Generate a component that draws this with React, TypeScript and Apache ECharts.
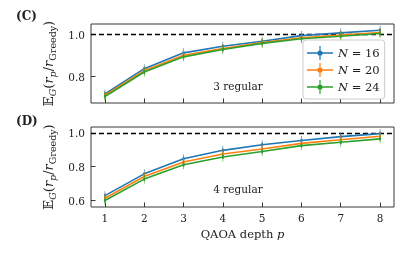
import React, { useEffect, useRef } from "react";
import * as echarts from "echarts";

const depths = [1, 2, 3, 4, 5, 6, 7, 8];
const seriesNames = ["N = 16", "N = 20", "N = 24"];
const colors = ["#1f77b4", "#ff7f0e", "#2ca02c"];
const reg3N16 = [0.718, 0.838, 0.913, 0.944, 0.968, 0.995, 1.008, 1.02];
const reg3N20 = [0.712, 0.828, 0.902, 0.934, 0.962, 0.985, 0.998, 1.01];
const reg3N24 = [0.706, 0.822, 0.894, 0.929, 0.958, 0.98, 0.992, 1.005];
const reg4N16 = [0.629, 0.758, 0.847, 0.897, 0.93, 0.955, 0.978, 0.996];
const reg4N20 = [0.614, 0.742, 0.828, 0.875, 0.905, 0.938, 0.96, 0.98];
const reg4N24 = [0.6, 0.727, 0.812, 0.858, 0.89, 0.925, 0.945, 0.965];
const topYTicks = [0.8, 1.0];
const bottomYTicks = [0.6, 0.8, 1.0];

const FONT = "DejaVu Serif";
const TXT = "#222";
const SYMBOL =
  "path://M-0.6,-4.5 L0.6,-4.5 L0.6,4.5 L-0.6,4.5 Z M-2.2,0 A2.2,2.2 0 1,1 2.2,0 A2.2,2.2 0 1,1 -2.2,0 Z";
const LEGEND_ICON =
  "path://M0,6.2 L26,6.2 L26,7.8 L0,7.8 Z M12.4,0 L13.6,0 L13.6,14 L12.4,14 Z M10.4,7 A2.6,2.6 0 1,1 15.6,7 A2.6,2.6 0 1,1 10.4,7 Z";

const yName = "{a|𝔼}{s|G}{a|(}{i|r}{s|p}{a|/}{i|r}{u|Greedy}{a|)}";
const yRich = {
  a: { fontFamily: FONT, fontSize: 13, color: TXT, lineHeight: 18 },
  i: { fontFamily: FONT, fontSize: 13, color: TXT, fontStyle: "italic", lineHeight: 18 },
  s: { fontFamily: FONT, fontSize: 9.5, color: TXT, fontStyle: "italic", verticalAlign: "bottom", lineHeight: 18 },
  u: { fontFamily: FONT, fontSize: 9.5, color: TXT, verticalAlign: "bottom", lineHeight: 18 },
};
const xRich = {
  a: { fontFamily: FONT, fontSize: 11.5, color: TXT },
  i: { fontFamily: FONT, fontSize: 11.5, color: TXT, fontStyle: "italic" },
};

function pairs(vals: number[]) {
  return depths.map((p, i) => [p, vals[i]]);
}

export default function App() {
  const ref = useRef<HTMLDivElement>(null);
  useEffect(() => {
    if (!ref.current) return;
    const chart = echarts.init(ref.current, null, { renderer: "svg" });
    const top = [reg3N16, reg3N20, reg3N24];
    const bot = [reg4N16, reg4N20, reg4N24];
    const mkSeries = (vals: number[], idx: number, g: number) => ({
      type: "line",
      name: seriesNames[idx],
      xAxisIndex: g,
      yAxisIndex: g,
      data: pairs(vals),
      color: colors[idx],
      lineStyle: { width: 1.6, color: colors[idx] },
      itemStyle: { color: colors[idx] },
      symbol: SYMBOL,
      symbolSize: [4.4, 9],
      symbolKeepAspect: true,
      z: 3 + idx,
      markLine:
        idx === 0
          ? {
              silent: true,
              symbol: "none",
              label: { show: false },
              lineStyle: { color: "#000", type: [5, 3], width: 1.4 },
              data: [{ yAxis: 1.0 }],
              z: 2,
            }
          : undefined,
    });
    const tickStyle = { color: "#222", width: 0.9 };
    const xCommon = {
      type: "value",
      min: 0.645,
      max: 8.355,
      axisLine: { show: false },
      splitLine: { show: false },
      axisTick: { show: true, inside: true, length: 4.5, lineStyle: tickStyle, customValues: depths },
    };
    const yCommon = {
      type: "value",
      axisLine: { show: false },
      splitLine: { show: false },
      nameLocation: "middle",
      nameRotate: 90,
      nameGap: 24,
      nameTextStyle: { rich: yRich },
      name: yName,
    };
    const labelStyle = { fontFamily: FONT, fontSize: 10.5, color: TXT };
    chart.setOption({
      animation: false,
      grid: [
        { left: 91, top: 24, width: 303, height: 79, show: true, borderColor: "#222", borderWidth: 0.9, backgroundColor: "transparent" },
        { left: 91, top: 127, width: 303, height: 80, show: true, borderColor: "#222", borderWidth: 0.9, backgroundColor: "transparent" },
      ],
      xAxis: [
        { ...xCommon, gridIndex: 0, axisLabel: { show: false, customValues: depths } },
        {
          ...xCommon,
          gridIndex: 1,
          axisLabel: { show: true, customValues: depths, ...labelStyle, margin: 5 },
          name: "{a|QAOA depth }{i|p}",
          nameLocation: "middle",
          nameGap: 21,
          nameTextStyle: { rich: xRich },
        },
      ],
      yAxis: [
        {
          ...yCommon,
          gridIndex: 0,
          min: 0.675,
          max: 1.05,
          axisTick: { show: true, inside: true, length: 4.5, lineStyle: tickStyle, customValues: topYTicks },
          axisLabel: { customValues: topYTicks, ...labelStyle, margin: 6, formatter: (v: number) => v.toFixed(1) },
        },
        {
          ...yCommon,
          gridIndex: 1,
          min: 0.562,
          max: 1.035,
          axisTick: { show: true, inside: true, length: 4.5, lineStyle: tickStyle, customValues: bottomYTicks },
          axisLabel: { customValues: bottomYTicks, ...labelStyle, margin: 6, formatter: (v: number) => v.toFixed(1) },
        },
      ],
      legend: {
        orient: "vertical",
        left: 303,
        top: 40,
        padding: [6, 5, 5, 4],
        itemGap: 3,
        itemWidth: 26,
        itemHeight: 14,
        backgroundColor: "rgba(255,255,255,0.85)",
        borderColor: "#ccc",
        borderWidth: 1,
        borderRadius: 3,
        data: seriesNames.map((n, i) => ({ name: n, icon: LEGEND_ICON, itemStyle: { color: colors[i] } })),
        formatter: (name: string) => `{i|N}{a| = ${name.split("= ")[1]}}`,
        textStyle: {
          rich: {
            a: { fontFamily: FONT, fontSize: 11.5, color: TXT },
            i: { fontFamily: FONT, fontSize: 11.5, color: TXT, fontStyle: "italic" },
          },
        },
        z: 10,
      },
      graphic: [
        { type: "text", left: 16, top: 10, style: { text: "(C)", font: `bold 12px "${FONT}"`, fill: TXT } },
        { type: "text", left: 16, top: 115, style: { text: "(D)", font: `bold 12px "${FONT}"`, fill: TXT } },
        { type: "text", x: 238, y: 86, style: { text: "3 regular", font: `10.5px "${FONT}"`, fill: TXT, align: "center", verticalAlign: "middle" } },
        { type: "text", x: 238, y: 189, style: { text: "4 regular", font: `10.5px "${FONT}"`, fill: TXT, align: "center", verticalAlign: "middle" } },
      ],
      series: [
        ...top.map((v, i) => mkSeries(v, i, 0)),
        ...bot.map((v, i) => mkSeries(v, i, 1)),
      ],
    });
    return () => chart.dispose();
  }, []);
  return <div ref={ref} style={{ position: "fixed", left: 0, top: 0, width: 407, height: 253 }} />;
}
